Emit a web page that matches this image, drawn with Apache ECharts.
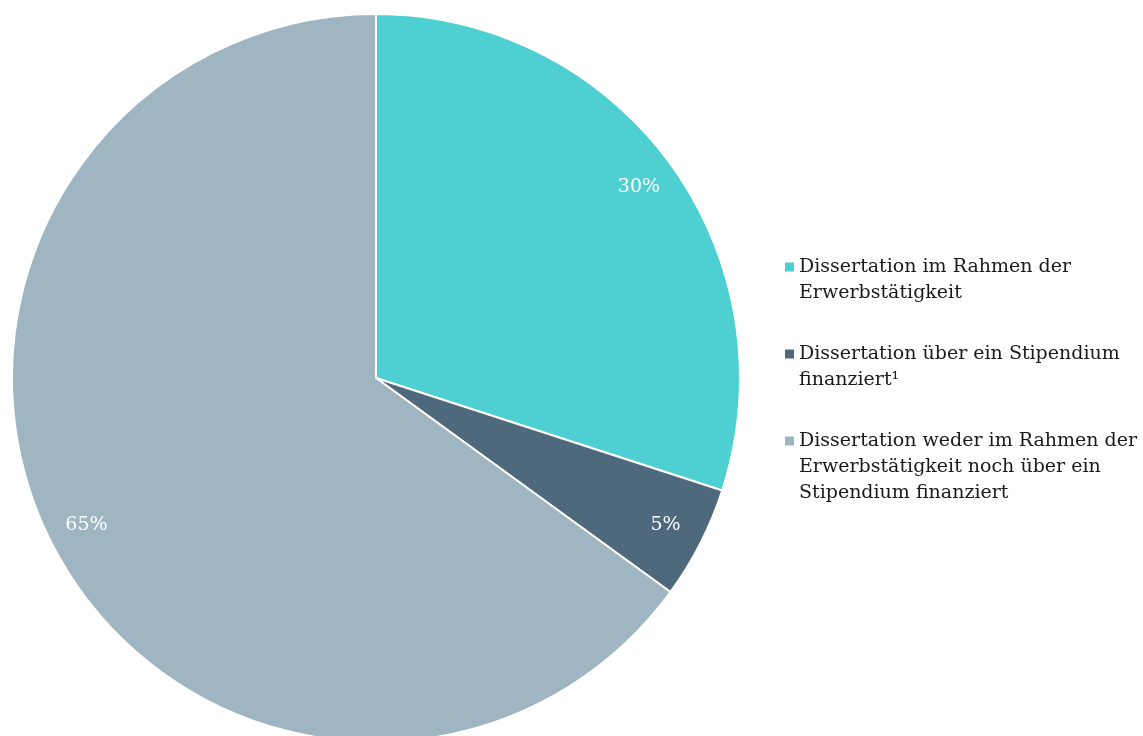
<!DOCTYPE html>
<html>
<head>
<meta charset="utf-8">
<script src="https://cdn.jsdelivr.net/npm/echarts@6/dist/echarts.min.js"></script>
<style>
  html, body { margin: 0; padding: 0; background: #ffffff; }
  #chart { width: 1143px; height: 736px; }
</style>
</head>
<body>
<div id="chart"></div>
<script>
// Finanzierung der Dissertation (Anteile in %)
const categories = [
  'Dissertation im Rahmen der Erwerbstätigkeit',
  'Dissertation über ein Stipendium finanziert¹',
  'Dissertation weder im Rahmen der Erwerbstätigkeit noch über ein Stipendium finanziert'
];
const legendLines = [
  ['Dissertation im Rahmen der', 'Erwerbstätigkeit'],
  ['Dissertation über ein Stipendium', 'finanziert¹'],
  ['Dissertation weder im Rahmen der', 'Erwerbstätigkeit noch über ein', 'Stipendium finanziert']
];
const shares = [30, 5, 65];
const colors = ['#4ecfd2', '#4d697b', '#a0b5c2'];

const FONT = 'DejaVu Serif';
const LINE_H = 26;
const MAX_LINES = 3;
const BLOCK_H = LINE_H * MAX_LINES;

// Marker square next to the first text line; the two zero-length
// sub-paths only stretch the icon box to the full text block height.
const markerTop = LINE_H / 2 - 4.5;
const markerIcon = 'path://M0,0L0,0M0,' + markerTop + 'L9,' + markerTop +
  'L9,' + (markerTop + 9) + 'L0,' + (markerTop + 9) + 'ZM0,' + BLOCK_H + 'L0,' + BLOCK_H;

const pieData = categories.map((name, i) => ({
  name: name,
  value: shares[i],
  itemStyle: { color: colors[i] }
}));

const chart = echarts.init(document.getElementById('chart'), null, { renderer: 'canvas' });
chart.setOption({
  backgroundColor: '#ffffff',
  animation: false,
  legend: {
    orient: 'vertical',
    left: 785,
    top: 254,
    padding: 0,
    itemGap: 9,
    itemWidth: 9,
    itemHeight: BLOCK_H,
    icon: markerIcon,
    selectedMode: false,
    itemStyle: { borderWidth: 0 },
    data: categories,
    formatter: function (name) {
      const lines = legendLines[categories.indexOf(name)].slice();
      while (lines.length < MAX_LINES) lines.push(' ');
      return lines.join('\n');
    },
    textStyle: {
      fontFamily: FONT,
      fontSize: 19,
      lineHeight: LINE_H,
      color: '#1a1a1a'
    }
  },
  series: [
    {
      type: 'pie',
      center: [376, 378],
      radius: [0, 364],
      startAngle: 90,
      clockwise: true,
      silent: true,
      label: { show: false },
      labelLine: { show: false },
      itemStyle: { borderColor: '#ffffff', borderWidth: 2 },
      data: pieData
    },
    {
      // label ring: places the percentages near the outer edge
      type: 'pie',
      center: [376, 378],
      radius: [280, 364],
      startAngle: 90,
      clockwise: true,
      silent: true,
      legendHoverLink: false,
      itemStyle: { color: 'rgba(0,0,0,0)', borderWidth: 0 },
      label: {
        show: true,
        position: 'inside',
        formatter: '{c}%',
        color: '#ffffff',
        fontFamily: FONT,
        fontSize: 19
      },
      labelLine: { show: false },
      data: categories.map((name, i) => ({ name: name, value: shares[i] }))
    }
  ]
});
</script>
</body>
</html>
